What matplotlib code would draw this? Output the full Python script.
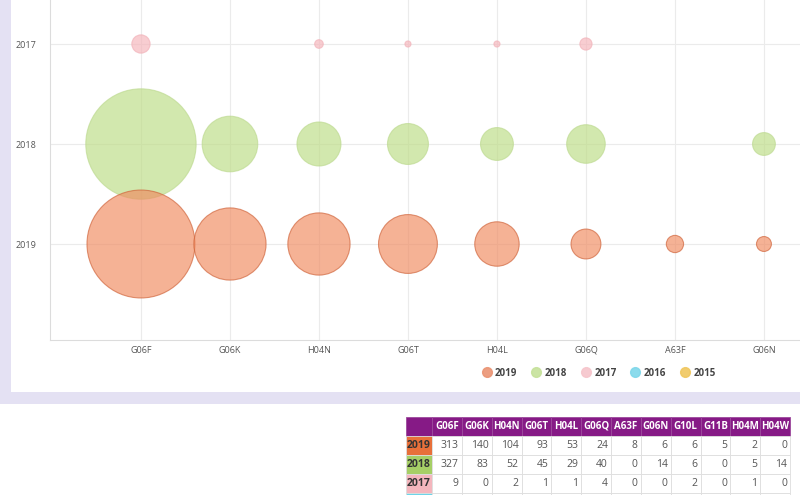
import matplotlib.pyplot as plt
from matplotlib.patches import Rectangle
from matplotlib.lines import Line2D

codes = ["G06F", "G06K", "H04N", "G06T", "H04L", "G06Q",
         "A63F", "G06N", "G10L", "G11B", "H04M", "H04W"]
years = ["2019", "2018", "2017"]
counts_2019 = [313, 140, 104, 93, 53, 24, 8, 6, 6, 5, 2, 0]
counts_2018 = [327, 83, 52, 45, 29, 40, 0, 14, 6, 0, 5, 14]
counts_2017 = [9, 0, 2, 1, 1, 4, 0, 0, 2, 0, 1, 0]
legend_years = ["2019", "2018", "2017", "2016", "2015"]

fill = {"2019": "#f08a5f", "2018": "#bcdd84", "2017": "#f5b3ba"}
edge = {"2019": "#cf6238", "2018": "#bcd98f", "2017": "#f1b0b7"}
legend_colors = ["#ea9473", "#c6e19a", "#f6c5cb", "#7fd7ea", "#f0c75e"]
label_colors = ["#e8703a", "#a6cf66", "#f4b6bd", "#6dd3e8"]
header_color = "#861a86"

W, H = 800, 495
fig = plt.figure(figsize=(8, 4.95), dpi=100)
fig.patch.set_facecolor("white")

def fx(px):
    return px / W

def fy(py):
    return 1 - py / H

# lavender frame and white panel
fig.add_artist(Rectangle((0, fy(404)), 1, 404 / H, transform=fig.transFigure,
                         facecolor="#e4e1f3", edgecolor="none", zorder=0))
fig.add_artist(Rectangle((fx(11), fy(392)), 1, 392 / H, transform=fig.transFigure,
                         facecolor="white", edgecolor="none", zorder=0))

# bubble chart (runs past the right edge like the screenshot)
ax = fig.add_axes([fx(50), fy(340), 1 - fx(50), 340 / H])
ax.set_facecolor("none")
xs = list(range(len(codes)))
scale = 19.3  # marker area per unit
series = {"2019": counts_2019, "2018": counts_2018, "2017": counts_2017}
ypos = {"2019": 0, "2018": 1, "2017": 2}
for yr in ["2017", "2018", "2019"]:
    vals = series[yr]
    ax.scatter(xs, [ypos[yr]] * len(xs), s=[v * scale for v in vals],
               color=fill[yr], alpha=0.66, edgecolors=edge[yr], linewidths=0.8,
               zorder=3)

ax.set_xticks(xs)
ax.set_xticklabels(codes)
ax.set_yticks([ypos[y] for y in years])
ax.set_yticklabels(years)
ax.set_xlim(-1.022, -1.022 + 750 / 89)
ax.set_ylim(-0.96, 2.44)
ax.grid(True, color="#ebebeb", linewidth=0.8, zorder=0)
ax.set_axisbelow(True)
for s in ["top", "right"]:
    ax.spines[s].set_visible(False)
for s in ["left", "bottom"]:
    ax.spines[s].set_color("#dcdcdc")
    ax.spines[s].set_linewidth(0.8)
ax.tick_params(axis="both", length=0, labelsize=6.5, labelcolor="#555555")
ax.tick_params(axis="y", pad=9.5)
ax.tick_params(axis="x", pad=4)
for lbl in ax.get_xticklabels() + ax.get_yticklabels():
    lbl.set_family("Open Sans")

# legend
handles = [Line2D([], [], marker="o", linestyle="none", markersize=7,
                  markerfacecolor=c, markeredgecolor=c, alpha=0.9)
           for c in legend_colors]
leg = fig.legend(handles, legend_years, loc="center", ncol=5,
                 bbox_to_anchor=(fx(598), fy(373)), frameon=False,
                 handletextpad=0.2, columnspacing=1.3, handlelength=1.3,
                 prop={"family": "Open Sans", "size": 7, "weight": "bold"})
for t in leg.get_texts():
    t.set_color("#444444")

# table below the chart
tax = fig.add_axes([fx(406), fy(512), fx(790) - fx(406), (512 - 417) / H])
tax.axis("off")
cell_text = [["2019"] + [str(v) for v in counts_2019],
             ["2018"] + [str(v) for v in counts_2018],
             ["2017"] + [str(v) for v in counts_2017],
             ["2016"] + [""] * len(codes)]
col_labels = [""] + codes
tab = tax.table(cellText=cell_text, colLabels=col_labels, bbox=[0, 0, 1, 1],
                cellLoc="right")
tab.auto_set_font_size(False)
label_w = 26 / 384
other_w = (1 - label_w) / len(codes)
for (r, c), cell in tab.get_celld().items():
    cell.set_width(label_w if c == 0 else other_w)
    cell.set_linewidth(0.6)
    cell.set_edgecolor("#dddddd")
    txt = cell.get_text()
    txt.set_fontsize(7.5)
    txt.set_family("Open Sans")
    if r == 0:
        cell.set_facecolor(header_color)
        cell.set_edgecolor("#9c4a9c")
        txt.set_fontsize(7)
        txt.set_color("white")
        txt.set_weight("bold")
        txt.set_ha("center")
        cell._loc = "center"
    elif c == 0:
        cell.set_facecolor(label_colors[r - 1])
        txt.set_color("#333333")
        txt.set_weight("bold")
        cell._loc = "center"
        txt.set_ha("center")
    else:
        cell.set_facecolor("white")
        txt.set_color("#555555")

fig.savefig("out.png", dpi=100)
